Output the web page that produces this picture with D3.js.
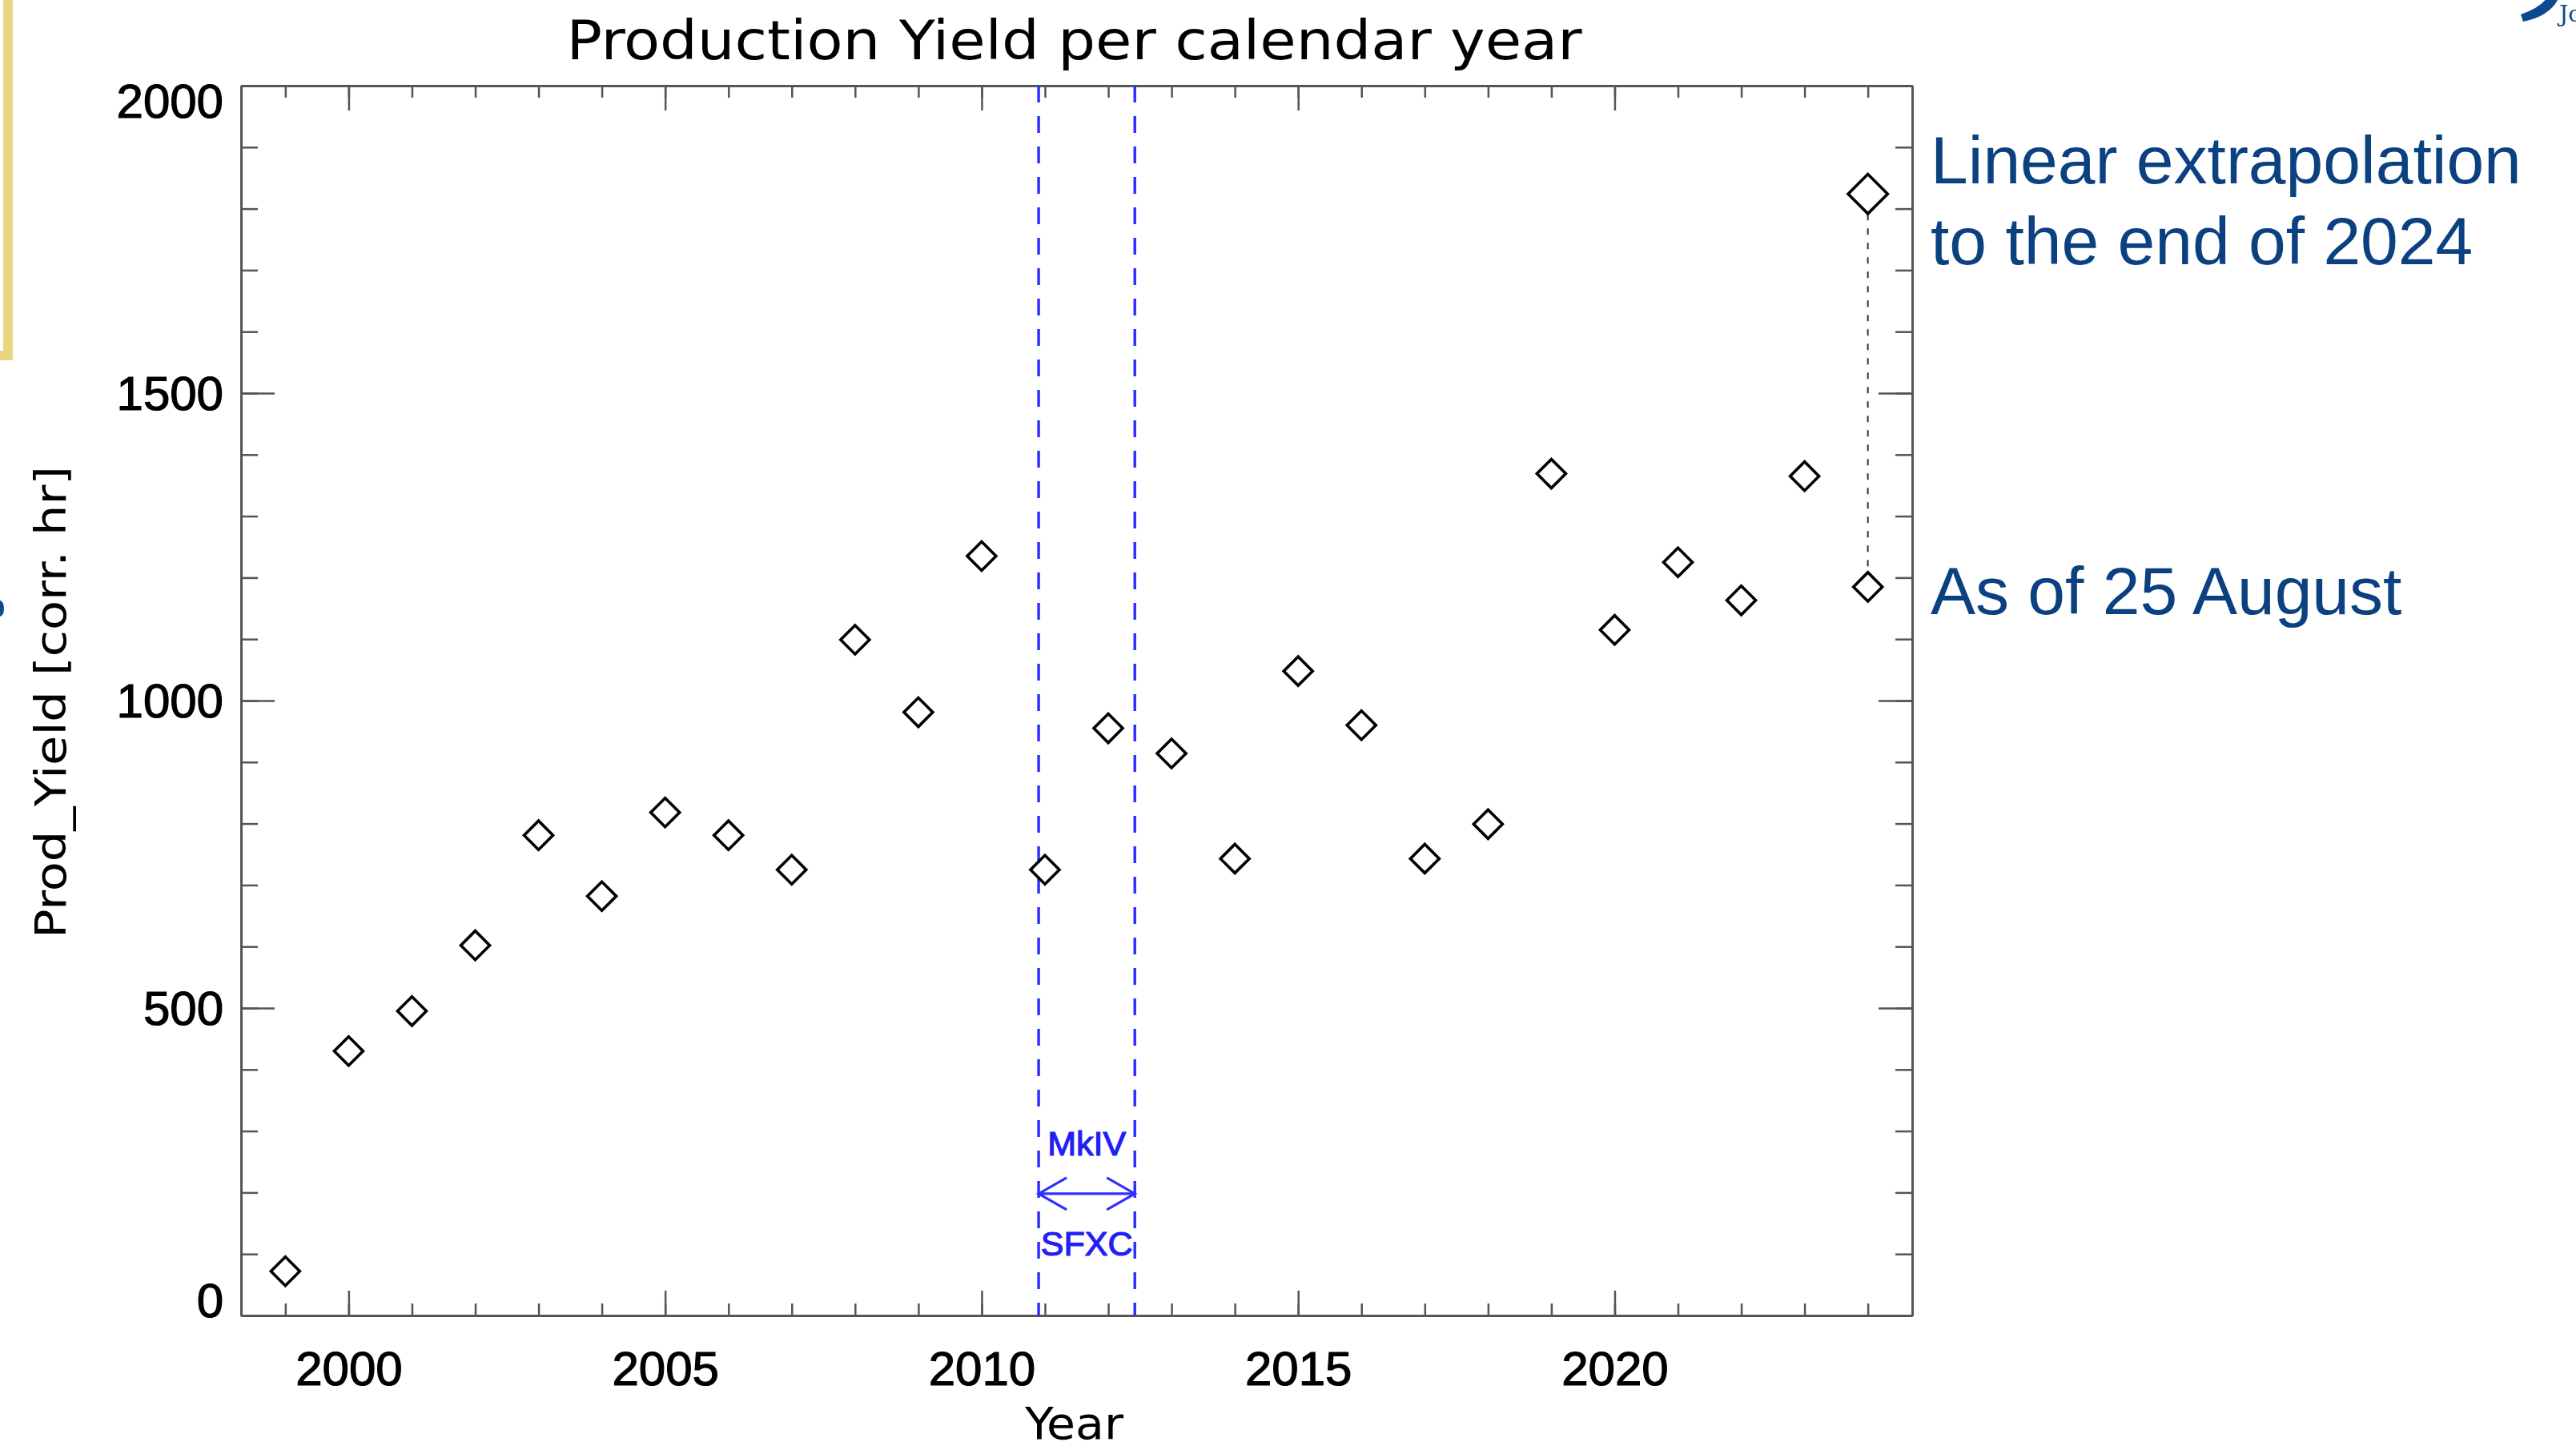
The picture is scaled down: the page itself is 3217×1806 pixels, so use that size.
<!DOCTYPE html>
<html>
<head>
<meta charset="utf-8">
<script src="https://cdn.jsdelivr.net/npm/d3@7"></script>
<style>
  body { margin: 0; background: #fff; }
  svg { display: block; }
</style>
</head>
<body>
<div id="chart"></div>
<script>
// data
const years = [1999, 2000, 2001, 2002, 2003, 2004, 2005, 2006, 2007, 2008, 2009, 2010, 2011,
               2012, 2013, 2014, 2015, 2016, 2017, 2018, 2019, 2020, 2021, 2022, 2023, 2024];
const prodYield = [72, 430, 495, 602, 781, 682, 818, 781, 725, 1099, 981, 1235, 725,
                   955, 914, 743, 1048, 960, 743, 799, 1369, 1115, 1225, 1163, 1365, 1185];
const extrapYears = [2024];
const extrapYield = [1824];

const xMajorTicks = [2000, 2005, 2010, 2015, 2020];
const xMinorTicks = d3.range(1999, 2025);
const yMajorTicks = [0, 500, 1000, 1500, 2000];
const yMinorTicks = d3.range(0, 2001, 100);

// MkIV -> SFXC correlator change
const switchYears = [2010.9, 2012.42];
const switchLabels = ["MkIV", "SFXC"];

const noteLines = ["Linear extrapolation", "to the end of 2024"];
const noteNow = "As of 25 August";

const W = 3217, H = 1806;
const margin = {top: 107, right: 829, bottom: 163, left: 301};

const svg = d3.select('#chart').append('svg')
    .attr('width', W).attr('height', H)
    .style('background', '#fff');

const x = d3.scaleLinear().domain([1998.3, 2024.7]).range([margin.left, W - margin.right]);
const y = d3.scaleLinear().domain([0, 2000]).range([H - margin.bottom, margin.top]);

const axisColor = '#555';
const tickFont = '"Liberation Sans", Arial, sans-serif';
const idlFont = '"Liberation Sans Narrow", "DejaVu Sans Condensed", "Liberation Sans", sans-serif';

function styleAxis(g) {
    g.select('.domain').attr('stroke', axisColor).attr('stroke-width', 3);
    g.selectAll('.tick line').attr('stroke', axisColor).attr('stroke-width', 2.5);
    g.selectAll('text').attr('fill', '#000')
        .attr('stroke', '#000').attr('stroke-width', 1.2)
        .style('font-family', tickFont).style('font-size', '60px');
}

// bottom axis: minor + major
svg.append('g').attr('transform', `translate(0,${y(0)})`)
    .call(d3.axisBottom(x).tickValues(xMinorTicks).tickSizeInner(-15).tickSizeOuter(0).tickFormat(''))
    .call(styleAxis);
svg.append('g').attr('transform', `translate(0,${y(0)})`)
    .call(d3.axisBottom(x).tickValues(xMajorTicks).tickSizeInner(-31).tickSizeOuter(0)
        .tickPadding(44).tickFormat(d3.format('d')))
    .call(styleAxis);

// top axis (mirror, no labels)
svg.append('g').attr('transform', `translate(0,${y(2000)})`)
    .call(d3.axisTop(x).tickValues(xMinorTicks).tickSizeInner(-15).tickSizeOuter(0).tickFormat(''))
    .call(styleAxis);
svg.append('g').attr('transform', `translate(0,${y(2000)})`)
    .call(d3.axisTop(x).tickValues(xMajorTicks).tickSizeInner(-31).tickSizeOuter(0).tickFormat(''))
    .call(styleAxis);

// left axis
svg.append('g').attr('transform', `translate(${x.range()[0]},0)`)
    .call(d3.axisLeft(y).tickValues(yMinorTicks).tickSizeInner(-21).tickSizeOuter(0).tickFormat(''))
    .call(styleAxis);
const yLeft = svg.append('g').attr('transform', `translate(${x.range()[0]},0)`)
    .call(d3.axisLeft(y).tickValues(yMajorTicks).tickSizeInner(-42).tickSizeOuter(0)
        .tickPadding(22).tickFormat(d3.format('d')))
    .call(styleAxis);
// keep end labels inside the frame, as IDL does
yLeft.selectAll('.tick text')
    .attr('dy', d => d === 2000 ? '0.65em' : d === 0 ? '0.02em' : '0.34em');

// right axis (mirror, no labels)
svg.append('g').attr('transform', `translate(${x.range()[1]},0)`)
    .call(d3.axisRight(y).tickValues(yMinorTicks).tickSizeInner(-21).tickSizeOuter(0).tickFormat(''))
    .call(styleAxis);
svg.append('g').attr('transform', `translate(${x.range()[1]},0)`)
    .call(d3.axisRight(y).tickValues(yMajorTicks).tickSizeInner(-42).tickSizeOuter(0).tickFormat(''))
    .call(styleAxis);

// titles
svg.append('text')
    .attr('x', (x.range()[0] + x.range()[1]) / 2 - 3).attr('y', 74)
    .attr('text-anchor', 'middle')
    .attr('textLength', 1268).attr('lengthAdjust', 'spacingAndGlyphs')
    .style('font-family', idlFont).style('font-size', '68px')
    .text('Production Yield per calendar year');

svg.append('text')
    .attr('x', (x.range()[0] + x.range()[1]) / 2 - 3).attr('y', 1797)
    .attr('text-anchor', 'middle')
    .attr('textLength', 123).attr('lengthAdjust', 'spacingAndGlyphs')
    .style('font-family', idlFont).style('font-size', '56px')
    .text('Year');

svg.append('text')
    .attr('transform', `translate(82,${(y(0) + y(2000)) / 2 + 2}) rotate(-90)`)
    .attr('text-anchor', 'middle')
    .attr('textLength', 590).attr('lengthAdjust', 'spacingAndGlyphs')
    .style('font-family', idlFont).style('font-size', '54px')
    .text('Prod_Yield [corr. hr]');

// correlator change markers
const blue = '#3030ff';
svg.selectAll('.switch-line')
    .data(switchYears)
    .enter().append('line')
    .attr('class', 'switch-line')
    .attr('x1', d => x(d)).attr('x2', d => x(d))
    .attr('y1', y(2000)).attr('y2', y(0))
    .attr('stroke', blue).attr('stroke-width', 3.5)
    .attr('stroke-dasharray', '21,17');

const xa = x(switchYears[0]), xb = x(switchYears[1]), ya = y(198);
const head = 35, hh = 20;
svg.append('path')
    .attr('d', `M${xa},${ya}H${xb}M${xa + head},${ya - hh}L${xa},${ya}L${xa + head},${ya + hh}` +
               `M${xb - head},${ya - hh}L${xb},${ya}L${xb - head},${ya + hh}`)
    .attr('fill', 'none').attr('stroke', blue).attr('stroke-width', 3.2);

svg.selectAll('.switch-label')
    .data(switchLabels)
    .enter().append('text')
    .attr('class', 'switch-label')
    .attr('x', (xa + xb) / 2)
    .attr('y', (d, i) => i === 0 ? y(260) : y(98))
    .attr('text-anchor', 'middle')
    .attr('fill', '#2020f5').attr('stroke', '#2020f5').attr('stroke-width', 1.2)
    .style('font-family', tickFont).style('font-size', '43px')
    .text(d => d);

// dotted link between "as of" point and extrapolated value
svg.append('line')
    .attr('x1', x(extrapYears[0])).attr('x2', x(extrapYears[0]))
    .attr('y1', y(extrapYield[0]) + 25).attr('y2', y(prodYield[prodYield.length - 1]) - 19)
    .attr('stroke', '#333').attr('stroke-width', 2)
    .attr('stroke-dasharray', '8,10');

// diamonds
const diamond = d3.symbol().type(d3.symbolSquare);
svg.selectAll('.pt')
    .data(years.map((yr, i) => [yr, prodYield[i]]))
    .enter().append('path')
    .attr('class', 'pt')
    .attr('d', diamond.size(650)())
    .attr('transform', d => `translate(${x(d[0])},${y(d[1])}) rotate(45)`)
    .attr('fill', 'none').attr('stroke', '#000').attr('stroke-width', 3.6);

svg.selectAll('.pt-extrap')
    .data(extrapYears.map((yr, i) => [yr, extrapYield[i]]))
    .enter().append('path')
    .attr('class', 'pt-extrap')
    .attr('d', d3.symbol().type(d3.symbolSquare).size(1220)())
    .attr('transform', d => `translate(${x(d[0])},${y(d[1])}) rotate(45)`)
    .attr('fill', 'none').attr('stroke', '#000').attr('stroke-width', 3.6);

// annotations
const noteColor = '#0b4180';
svg.selectAll('.note')
    .data(noteLines)
    .enter().append('text')
    .attr('class', 'note')
    .attr('x', 2411)
    .attr('y', (d, i) => 229 + i * 101)
    .attr('fill', noteColor)
    .style('font-family', tickFont).style('font-size', '84px')
    .text(d => d);

svg.append('text')
    .attr('x', 2411).attr('y', 767)
    .attr('fill', noteColor)
    .style('font-family', tickFont).style('font-size', '84px')
    .text(noteNow);

// slide decorations at the edges
svg.append('rect').attr('x', 4).attr('y', 0).attr('width', 12).attr('height', 450).attr('fill', '#e8d57d');
svg.append('rect').attr('x', 0).attr('y', 438).attr('width', 16).attr('height', 12).attr('fill', '#e8d57d');
svg.append('ellipse').attr('cx', 0).attr('cy', 760).attr('rx', 5).attr('ry', 10).attr('fill', '#0b4a8c');
svg.append('path')
    .attr('d', 'M3148,18 Q3172,10 3182,-4 L3196,-4 Q3186,20 3151,27 Z')
    .attr('fill', '#0b4a8c');
svg.append('text')
    .attr('x', 3196).attr('y', 27)
    .attr('fill', '#0b4a8c')
    .style('font-family', '"DejaVu Serif", serif').style('font-size', '28px').style('font-weight', 300)
    .text('Jo');
</script>
</body>
</html>
